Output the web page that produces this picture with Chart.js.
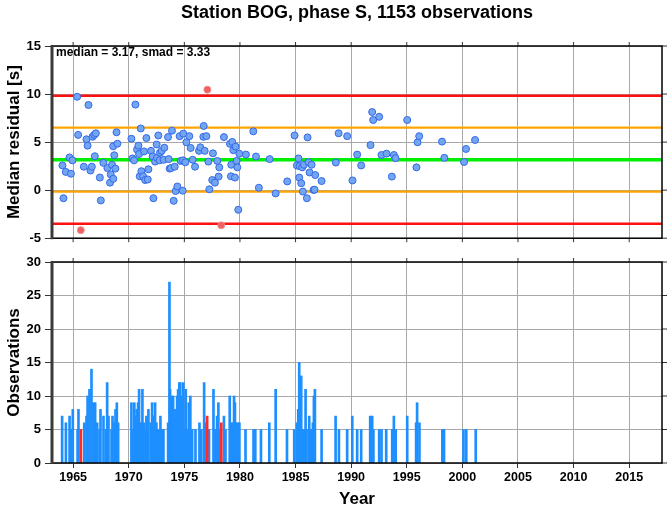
<!DOCTYPE html>
<html>
<head>
<meta charset="utf-8">
<script src="https://cdn.jsdelivr.net/npm/chart.js@4"></script>
<style>
  body { margin: 0; background: #fff; }
  #wrap { position: relative; width: 669px; height: 511px; }
  canvas { position: absolute; left: 0; }
  #chart-resid { top: 0; }
  #chart-obs { top: 250px; }
</style>
</head>
<body>
<div id="wrap">
  <canvas id="chart-resid" width="669" height="250"></canvas>
  <canvas id="chart-obs" width="669" height="261"></canvas>
</div>
<script>
// station BOG, phase S
const plotTitle = 'Station BOG, phase S, 1153 observations';
const medianValue = 3.17;
const smadValue = 3.33;
const yearMin = 1963.1;
const yearMax = 2017.95;

// per-event median residuals
const eventYears = [
  1964.04, 1964.13, 1964.34, 1964.67, 1964.80, 1964.94, 1965.36, 1965.45, 1965.69, 1965.96,
  1966.20, 1966.30, 1966.38, 1966.56, 1966.68, 1966.74, 1966.90, 1966.95, 1967.04, 1967.40,
  1967.49, 1967.72, 1968.08, 1968.32, 1968.38, 1968.50, 1968.60, 1968.61, 1968.70, 1968.80,
  1968.90, 1968.98, 1970.24, 1970.33, 1970.48, 1970.60, 1970.75, 1970.87, 1970.93, 1970.99,
  1971.08, 1971.14, 1971.29, 1971.38, 1971.47, 1971.59, 1971.71, 1971.77, 1972.00, 1972.15,
  1972.22, 1972.37, 1972.51, 1972.54, 1972.66, 1972.78, 1972.81, 1972.96, 1973.14, 1973.20,
  1973.53, 1973.59, 1973.68, 1973.80, 1973.89, 1974.04, 1974.13, 1974.22, 1974.37, 1974.58,
  1974.67, 1974.85, 1974.88, 1974.91, 1975.09, 1975.18, 1975.45, 1975.57, 1975.75, 1975.96,
  1976.32, 1976.44, 1976.71, 1976.74, 1976.83, 1976.98, 1977.07, 1977.16, 1977.25, 1977.51,
  1977.57, 1977.75, 1977.96, 1978.08, 1978.14, 1978.32, 1978.56, 1979.10, 1979.19, 1979.22,
  1979.31, 1979.40, 1979.55, 1979.61, 1979.70, 1979.76, 1979.85, 1979.94, 1980.54, 1981.20,
  1981.44, 1981.70, 1982.67, 1983.21, 1984.25, 1984.91, 1985.12, 1985.27, 1985.33, 1985.36,
  1985.51, 1985.60, 1985.66, 1985.75, 1986.02, 1986.08, 1986.17, 1986.26, 1986.44, 1986.62,
  1986.71, 1986.77, 1987.34, 1988.62, 1988.87, 1989.64, 1990.12, 1990.54, 1990.90, 1991.74,
  1991.89, 1991.98, 1992.52, 1992.73, 1993.18, 1993.66, 1993.84, 1993.99, 1995.04, 1995.87,
  1995.97, 1996.12, 1998.17, 1998.38, 2000.15, 2000.33, 2001.14
];
const eventResiduals = [
  2.57, -0.84, 1.90, 3.40, 1.71, 3.10, 9.72, 5.75, -4.16, 2.44,
  5.29, 4.63, 8.86, 2.04, 2.44, 5.55, 5.75, 3.53, 5.92, 1.31,
  -1.07, 2.84, 2.30, 0.78, 1.64, 2.64, 4.56, 1.18, 3.63, 2.24,
  6.02, 4.83, 5.35, 3.30, 3.10, 8.90, 4.23, 4.63, 3.76, 1.44,
  6.42, 1.97, 1.44, 4.03, 1.05, 5.42, 1.11, 2.17, 4.09, 3.50,
  -0.84, 2.97, 4.75, 3.36, 5.69, 3.10, 3.90, 4.09, 3.16, 4.42,
  5.52, 3.23, 2.24, 2.30, 6.19, -1.11, 2.44, -0.09, 0.38, 5.62,
  3.04, -0.05, 3.10, 5.88, 2.90, 4.98, 5.62, 4.39, 3.16, 2.44,
  4.09, 4.46, 5.55, 6.68, 4.09, 5.62, 10.46, 2.97, 0.09, 1.05,
  3.83, 0.78, 3.04, 1.41, 2.37, -3.66, 5.52, 4.82, 1.44, 2.64,
  5.02, 4.16, 1.31, 4.53, 3.04, 2.37, -2.04, 3.79, 3.70, 6.12,
  3.50, 0.25, 3.23, -0.34, 0.91, 5.69, 2.57, 3.30, 1.31, 2.50,
  0.72, 2.37, -0.15, 2.64, -0.84, 5.49, 2.90, 1.84, 2.64, 0.02,
  0.05, 1.57, 0.95, 2.87, 5.92, 5.62, 1.01, 3.70, 2.57, 4.69,
  8.13, 7.30, 7.63, 3.66, 3.80, 1.41, 3.66, 3.33, 7.30, 2.37,
  4.98, 5.62, 5.05, 3.36, 2.93, 4.29, 5.22
];

// observations per event
const obsYears = [
  1964.01, 1964.35, 1964.68, 1964.80, 1964.97, 1965.40, 1965.48, 1966.00, 1966.20, 1966.30,
  1966.47, 1966.65, 1966.83, 1966.98, 1967.16, 1967.37, 1967.46, 1967.73, 1967.94, 1968.06,
  1968.18, 1968.45, 1968.54, 1968.66, 1968.81, 1968.93, 1969.05,
  1970.24, 1970.33, 1970.50, 1970.60, 1970.72, 1970.84, 1970.93, 1971.05, 1971.13, 1971.23,
  1971.35, 1971.47, 1971.59, 1971.68, 1971.77, 1971.98, 1972.10, 1972.19, 1972.28, 1972.37,
  1972.49, 1972.61, 1972.73, 1972.85, 1972.97, 1973.12, 1973.54, 1973.66, 1973.72, 1973.81,
  1973.90, 1973.99, 1974.08, 1974.17, 1974.26, 1974.35, 1974.44, 1974.55, 1974.64, 1974.73,
  1974.82, 1974.91, 1975.03, 1975.13, 1975.27, 1975.40, 1975.54, 1975.70, 1976.00, 1976.36,
  1976.53, 1976.78, 1976.89, 1977.22, 1977.62, 1977.76, 1977.94, 1978.06, 1978.18, 1978.56,
  1978.70, 1979.08, 1979.23, 1979.35, 1979.47, 1979.55, 1979.67, 1979.80, 1979.95, 1980.50,
  1981.22, 1981.38, 1981.89, 1982.64, 1983.21, 1984.23, 1984.88, 1985.12, 1985.24, 1985.30,
  1985.33, 1985.42, 1985.51, 1985.66, 1985.81, 1985.90, 1985.99, 1986.23, 1986.35, 1986.44,
  1986.56, 1986.65, 1986.74, 1987.34, 1988.60, 1988.90, 1989.64, 1990.10, 1990.54, 1990.90,
  1991.71, 1991.89, 1992.00, 1992.52, 1992.73, 1993.15, 1993.69, 1993.84, 1994.00, 1995.04,
  1995.84, 1995.93, 1996.14, 1998.20, 1998.35, 2000.10, 2000.35, 2001.20
];
const obsCounts = [
  7, 6, 7, 5, 8, 5, 8, 6, 7, 10,
  11, 14, 9, 9, 6, 5, 8, 7, 5, 12,
  7, 5, 7, 6, 8, 9, 6,
  9, 5, 9, 7, 8, 9, 11, 6, 6, 11,
  6, 5, 7, 5, 8, 6, 9, 7, 7, 9,
  6, 5, 5, 7, 5, 5, 6, 27, 11, 6,
  10, 10, 6, 8, 8, 10, 11, 12, 12, 9,
  10, 12, 5, 11, 5, 9, 10, 5, 5, 6,
  5, 12, 6, 5, 11, 5, 7, 9, 5, 7,
  5, 10, 6, 6, 10, 9, 6, 6, 6, 5,
  5, 5, 5, 6, 11, 5, 5, 6, 8, 8,
  15, 8, 13, 5, 5, 11, 5, 7, 5, 5,
  6, 10, 11, 5, 7, 5, 5, 7, 5, 5,
  7, 7, 5, 5, 5, 5, 5, 7, 5, 7,
  6, 9, 6, 5, 5, 5, 5, 5
];
// events flagged as outliers
const outlierObsYears = [1965.70, 1977.05, 1978.32];
const outlierObsCounts = [5, 7, 6];

const residTicks = [-5, 0, 5, 10, 15];
const obsTicks = [0, 5, 10, 15, 20, 25, 30];

Chart.defaults.font.family = "'Liberation Sans', Arial, sans-serif";
Chart.defaults.font.weight = 'bold';
Chart.defaults.color = '#000';

const isOutlier = v => Math.abs(v - medianValue) > 2 * smadValue;
const inPts = [], outPts = [];
eventYears.forEach((yr, i) => {
  const p = { x: yr, y: eventResiduals[i] };
  (isOutlier(p.y) ? outPts : inPts).push(p);
});

function hLine(value, color, width) {
  return {
    type: 'line',
    data: [{ x: yearMin, y: value }, { x: yearMax, y: value }],
    borderColor: color,
    borderWidth: width,
    pointRadius: 0,
    showLine: true,
    order: 5
  };
}

// frame + outward ticks on the other sides
const framePlugin = {
  id: 'frame',
  afterDraw(chart, args, opts) {
    const { ctx, chartArea: a, scales } = chart;
    const seg = (x1, y1, x2, y2) => { ctx.beginPath(); ctx.moveTo(x1, y1); ctx.lineTo(x2, y2); ctx.stroke(); };
    ctx.save();
    ctx.strokeStyle = '#333';
    ctx.lineWidth = 1;
    scales.x.ticks.forEach(t => {
      const px = scales.x.getPixelForValue(t.value);
      seg(px, a.top, px, a.top - 4);
      if (opts.bottomTicks) seg(px, a.bottom, px, a.bottom + 4);
    });
    scales.y.ticks.forEach(t => {
      const py = scales.y.getPixelForValue(t.value);
      seg(a.right, py, a.right + 5, py);
    });
    ctx.strokeStyle = '#000';
    ctx.lineWidth = 1.5;
    ctx.strokeRect(a.left, a.top, a.right - a.left, a.bottom - a.top);
    ctx.strokeStyle = '#3a3a3a';
    ctx.lineWidth = 3;
    seg(a.left, a.top - 1, a.left, a.bottom + 1);
    ctx.restore();
  }
};

// title and the median / smad note
const textPlugin = {
  id: 'texts',
  beforeDraw(chart) {
    const { ctx, chartArea: a } = chart;
    ctx.save();
    ctx.fillStyle = '#000';
    ctx.textBaseline = 'middle';
    ctx.textAlign = 'center';
    ctx.font = "bold 18px 'Liberation Sans', Arial, sans-serif";
    ctx.fillText(plotTitle, (a.left + a.right) / 2, 13);
    ctx.textAlign = 'left';
    ctx.font = "bold 12px 'Liberation Sans', Arial, sans-serif";
    ctx.fillText(`median = ${medianValue.toFixed(2)}, smad = ${smadValue.toFixed(2)}`, a.left + 4, a.top + 7);
    ctx.restore();
  }
};

const gridColor = '#a8a8a8';

function xScale(showLabels) {
  return {
    type: 'linear',
    min: yearMin,
    max: yearMax,
    offset: false,
    border: { display: false },
    grid: {
      color: gridColor, offset: false,
      drawTicks: showLabels, tickLength: 5, tickColor: '#333'
    },
    ticks: {
      display: showLabels, stepSize: 5, includeBounds: false,
      autoSkip: false, maxRotation: 0, padding: 2,
      font: { size: 12.5, weight: 'bold' },
      callback: v => String(v)
    },
    title: {
      display: showLabels, text: 'Year',
      font: { size: 17, weight: 'bold' }, padding: { top: 0, bottom: 1 }
    },
    afterFit: s => { s.height = showLabels ? 48 : 0; }
  };
}

function yScale(min, max, label, ticks) {
  return {
    min: min,
    max: max,
    border: { display: false },
    grid: { color: gridColor, tickLength: 7, tickColor: '#333' },
    afterBuildTicks: s => { s.ticks = ticks.map(v => ({ value: v })); },
    ticks: { padding: 4, font: { size: 13, weight: 'bold' }, callback: v => String(v) },
    title: {
      display: true, text: label,
      font: { size: 17, weight: 'bold' }, padding: { top: 4, bottom: 0 }
    },
    afterFit: s => { s.width = 52; }
  };
}

new Chart(document.getElementById('chart-resid'), {
  type: 'scatter',
  data: {
    datasets: [
      {
        data: outPts, order: 1,
        backgroundColor: '#f06262', borderColor: '#f58a8a', borderWidth: 1, pointRadius: 3.5
      },
      {
        data: inPts, order: 2,
        backgroundColor: '#72a6f0', borderColor: '#3568e8', borderWidth: 1, pointRadius: 3.5
      },
      hLine(medianValue, '#00ee00', 3.5),
      hLine(medianValue + smadValue, '#ffa500', 2.2),
      hLine(medianValue - smadValue, '#ffa500', 2.2),
      hLine(medianValue + 2 * smadValue, '#ff1010', 2.4),
      hLine(medianValue - 2 * smadValue, '#ff1010', 2.4)
    ]
  },
  options: {
    responsive: false,
    animation: false,
    layout: { padding: { top: 46, right: 7, bottom: 2, left: 0 } },
    plugins: { legend: { display: false }, tooltip: { enabled: false }, frame: { bottomTicks: true } },
    scales: {
      x: xScale(false),
      y: yScale(-5, 15, 'Median residual [s]', residTicks)
    }
  },
  plugins: [textPlugin, framePlugin]
});

new Chart(document.getElementById('chart-obs'), {
  type: 'bar',
  data: {
    datasets: [
      {
        data: outlierObsYears.map((yr, i) => ({ x: yr, y: outlierObsCounts[i] })),
        backgroundColor: '#ff2a2a', order: 1
      },
      {
        data: obsYears.map((yr, i) => ({ x: yr, y: obsCounts[i] })),
        backgroundColor: '#1e8fff', order: 2
      }
    ]
  },
  options: {
    responsive: false,
    animation: false,
    layout: { padding: { top: 12, right: 7, bottom: 0, left: 0 } },
    datasets: { bar: { barThickness: 2, grouped: false } },
    plugins: { legend: { display: false }, tooltip: { enabled: false }, frame: { bottomTicks: false } },
    scales: {
      x: xScale(true),
      y: yScale(0, 30, 'Observations', obsTicks)
    }
  },
  plugins: [framePlugin]
});
</script>
</body>
</html>
